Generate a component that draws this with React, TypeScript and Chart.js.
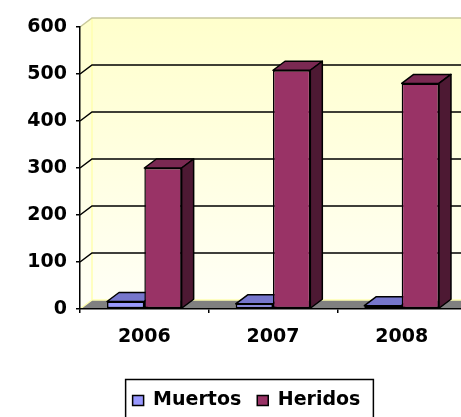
import React, { useEffect, useRef } from 'react';
import { Chart, registerables } from 'chart.js';

Chart.register(...registerables);

// ---- data ----
const categories = ['2006', '2007', '2008'];
const seriesNames = ['Muertos', 'Heridos'];
const muertos = [16, 11, 7];
const heridos = [300, 508, 480];
const yMin = 0;
const yMax = 600;
const yStep = 100;

// ---- styles ----
const frontColors = ['#9999FF', '#993366'];
const topColors = ['#7676CC', '#7A2952'];
const sideColors = ['#5C5CA0', '#4D1933'];
const FONT = { family: '"DejaVu Sans", Arial, sans-serif', size: 19, weight: 'bold' as const };
const DX = 12;
const DY = -9;

const threeD = {
  id: 'threeD',
  beforeDraw(chart: any) {
    const { ctx, chartArea: a, scales } = chart;
    const ys = scales.y;
    ctx.save();
    // back wall
    const grad = ctx.createLinearGradient(0, a.top + DY, 0, a.bottom + DY);
    grad.addColorStop(0, '#FFFFCC');
    grad.addColorStop(1, '#FFFFF5');
    ctx.fillStyle = grad;
    ctx.fillRect(a.left + DX, a.top + DY, a.right - a.left, a.bottom - a.top);
    // left side wall
    ctx.beginPath();
    ctx.moveTo(a.left, a.top);
    ctx.lineTo(a.left + DX, a.top + DY);
    ctx.lineTo(a.left + DX, a.bottom + DY);
    ctx.lineTo(a.left, a.bottom);
    ctx.closePath();
    ctx.fill();
    // floor
    ctx.fillStyle = '#808080';
    ctx.beginPath();
    ctx.moveTo(a.left, a.bottom);
    ctx.lineTo(a.right, a.bottom);
    ctx.lineTo(a.right + DX, a.bottom + DY);
    ctx.lineTo(a.left + DX, a.bottom + DY);
    ctx.closePath();
    ctx.fill();
    // wall edges
    ctx.lineWidth = 1.5;
    ctx.strokeStyle = '#FFFFB0';
    ctx.beginPath();
    ctx.moveTo(a.left + DX, a.top + DY);
    ctx.lineTo(a.left + DX, a.bottom + DY);
    ctx.lineTo(a.right + DX, a.bottom + DY);
    ctx.moveTo(a.left, a.bottom);
    ctx.lineTo(a.left + DX, a.bottom + DY);
    ctx.stroke();
    ctx.strokeStyle = '#C8C89C';
    ctx.beginPath();
    ctx.moveTo(a.left, a.top);
    ctx.lineTo(a.left + DX, a.top + DY);
    ctx.lineTo(a.right + DX, a.top + DY);
    ctx.stroke();
    // gridlines on the walls
    ctx.strokeStyle = '#000';
    ctx.lineWidth = 1.5;
    ys.ticks.forEach((t: any) => {
      if (t.value <= ys.min || t.value >= ys.max) return;
      const py = ys.getPixelForValue(t.value);
      ctx.beginPath();
      ctx.moveTo(a.left, py);
      ctx.lineTo(a.left + DX, py + DY);
      ctx.lineTo(a.right + DX, py + DY);
      ctx.stroke();
    });
    ctx.restore();
  },
  beforeDatasetsDraw(chart: any) {
    const { ctx } = chart;
    ctx.save();
    ctx.lineWidth = 1.5;
    ctx.strokeStyle = '#000';
    ctx.lineJoin = 'round';
    chart.data.datasets.forEach((_ds: any, i: number) => {
      const meta = chart.getDatasetMeta(i);
      meta.data.forEach((bar: any) => {
        const { x, y, base, width } = bar.getProps(['x', 'y', 'base', 'width'], true);
        const l = x - width / 2;
        const r = x + width / 2;
        // top face
        ctx.fillStyle = topColors[i];
        ctx.beginPath();
        ctx.moveTo(l, y);
        ctx.lineTo(r, y);
        ctx.lineTo(r + DX, y + DY);
        ctx.lineTo(l + DX, y + DY);
        ctx.closePath();
        ctx.fill();
        ctx.stroke();
        // side face
        ctx.fillStyle = sideColors[i];
        ctx.beginPath();
        ctx.moveTo(r, y);
        ctx.lineTo(r + DX, y + DY);
        ctx.lineTo(r + DX, base + DY);
        ctx.lineTo(r, base);
        ctx.closePath();
        ctx.fill();
        ctx.stroke();
      });
    });
    ctx.restore();
  },
  afterDraw(chart: any) {
    const lg = chart.legend;
    const hb = lg && lg.legendHitBoxes;
    if (!hb || !hb.length) return;
    const first = hb[0];
    const last = hb[hb.length - 1];
    const cy = first.top + first.height / 2;
    const { ctx } = chart;
    ctx.save();
    ctx.strokeStyle = '#000';
    ctx.lineWidth = 1.5;
    ctx.strokeRect(first.left - 7, cy - 21, last.left + last.width + 13 - (first.left - 7), 42);
    ctx.restore();
  },
};

export default function App() {
  const ref = useRef<HTMLCanvasElement>(null);
  useEffect(() => {
    document.body.style.margin = '0';
    const chart = new Chart(ref.current as HTMLCanvasElement, {
      type: 'bar',
      data: {
        labels: categories,
        datasets: [
          { label: seriesNames[0], data: muertos, backgroundColor: frontColors[0], borderColor: '#000', borderWidth: 1.5, borderSkipped: false },
          { label: seriesNames[1], data: heridos, backgroundColor: frontColors[1], borderColor: '#000', borderWidth: 1.5, borderSkipped: false },
        ],
      },
      options: {
        responsive: false,
        animation: false,
        devicePixelRatio: 1,
        layout: { padding: { left: 27, top: 27, right: 0, bottom: 0 } },
        datasets: { bar: { categoryPercentage: 0.58, barPercentage: 1 } },
        plugins: {
          legend: { position: 'bottom', labels: { boxWidth: 11, boxHeight: 10, padding: 16, color: '#000', font: FONT } },
          tooltip: { enabled: false },
        },
        scales: {
          x: {
            grid: { drawOnChartArea: false, drawTicks: true, tickLength: 4, color: '#000', lineWidth: 1.5, offset: true },
            border: { display: true, color: '#000', width: 1.5 },
            ticks: { color: '#000', font: FONT, padding: 13, maxRotation: 0 },
            afterFit: (s: any) => { s.height = 66; },
          },
          y: {
            min: yMin,
            max: yMax,
            grid: { drawOnChartArea: false, drawTicks: true, tickLength: 4, color: '#000', lineWidth: 1.5 },
            border: { display: true, color: '#000', width: 1.5 },
            ticks: { stepSize: yStep, color: '#000', font: FONT, padding: 9 },
            afterFit: (s: any) => { s.width = 53; },
          },
        },
      },
      plugins: [threeD],
    } as any);
    return () => chart.destroy();
  }, []);
  return (
    <div style={{ position: 'absolute', left: 0, top: 0, width: 461, height: 417, overflow: 'hidden', background: '#fff' }}>
      <canvas ref={ref} width={466} height={420} style={{ display: 'block', width: 466, height: 420 }} />
    </div>
  );
}
